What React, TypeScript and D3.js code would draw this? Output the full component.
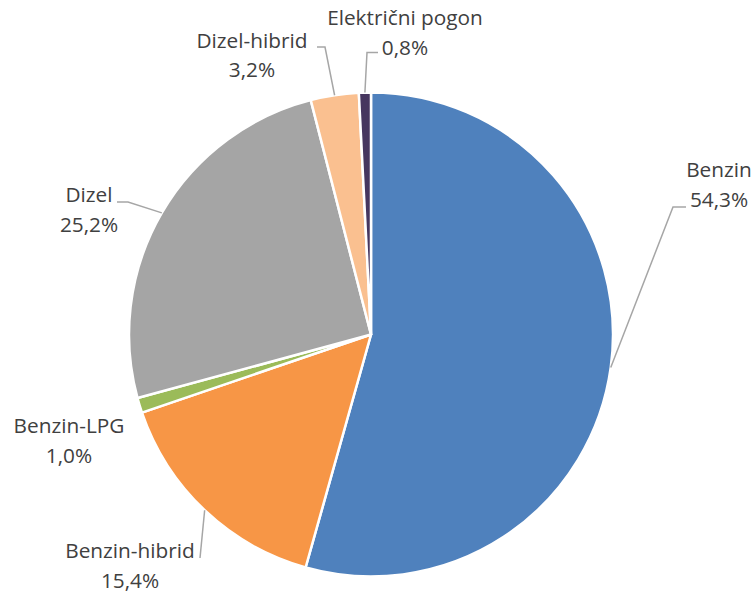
import React from "react";
import * as d3 from "d3";

const categories = ["Benzin", "Benzin-hibrid", "Benzin-LPG", "Dizel", "Dizel-hibrid", "Električni pogon"];
const values = [54.3, 15.4, 1.0, 25.2, 3.2, 0.8];
const valueLabels = ["54,3%", "15,4%", "1,0%", "25,2%", "3,2%", "0,8%"];
const colors = ["#4F81BD", "#F79646", "#9BBB59", "#A5A5A5", "#FAC090", "#46365F"];

// label layout: text center x, first baseline y, leader elbow and end (none = no line)
const labelLayout: Record<string, { x: number; y: number; elbow?: [number, number]; end?: [number, number] }> = {
  "Benzin": { x: 719, y: 177, elbow: [673, 207], end: [686, 207] },
  "Benzin-hibrid": { x: 130, y: 558, elbow: [200, 558], end: [200, 558] },
  "Benzin-LPG": { x: 69, y: 433 },
  "Dizel": { x: 89, y: 202, elbow: [128, 202], end: [117, 202] },
  "Dizel-hibrid": { x: 252, y: 47.5, elbow: [325, 47], end: [317, 47] },
  "Električni pogon": { x: 405, y: 25, elbow: [367, 52.5], end: [378, 52.5] },
};

const W = 754;
const H = 594;
const cx = 371;
const cy = 334.5;
const R = 242;

export default function App() {
  const data = categories.map((c, i) => ({ cat: c, value: values[i], label: valueLabels[i], color: colors[i] }));
  const pie = d3.pie<any>().sort(null).value((d) => d.value);
  const arcs = pie(data);
  const arc = d3.arc<any>().innerRadius(0).outerRadius(R);
  const font = "'Open Sans', sans-serif";
  const fs = 20.8;

  return (
    <svg width={W} height={H} style={{ position: "absolute", left: 0, top: 0, background: "#fff" }}>
      <g transform={`translate(${cx},${cy})`}>
        {arcs.map((a, i) => (
          <path key={i} d={arc(a) as string} fill={a.data.color} stroke="#fff" strokeWidth={2.5} strokeLinejoin="round" />
        ))}
      </g>
      {arcs.map((a, i) => {
        const L = labelLayout[a.data.cat];
        const mid = (a.startAngle + a.endAngle) / 2;
        const sx = cx + R * Math.sin(mid);
        const sy = cy - R * Math.cos(mid);
        return (
          <g key={"l" + i}>
            {L.elbow && L.end && (
              <polyline
                points={`${sx},${sy} ${L.elbow[0]},${L.elbow[1]} ${L.end[0]},${L.end[1]}`}
                fill="none"
                stroke="#A6A6A6"
                strokeWidth={1.5}
              />
            )}
            <text x={L.x} y={L.y} textAnchor="middle" fontFamily={font} fontSize={fs} fill="#404040">
              {a.data.cat}
            </text>
            <text x={L.x} y={L.y + 29.7} textAnchor="middle" fontFamily={font} fontSize={fs} fill="#404040">
              {a.data.label}
            </text>
          </g>
        );
      })}
    </svg>
  );
}
